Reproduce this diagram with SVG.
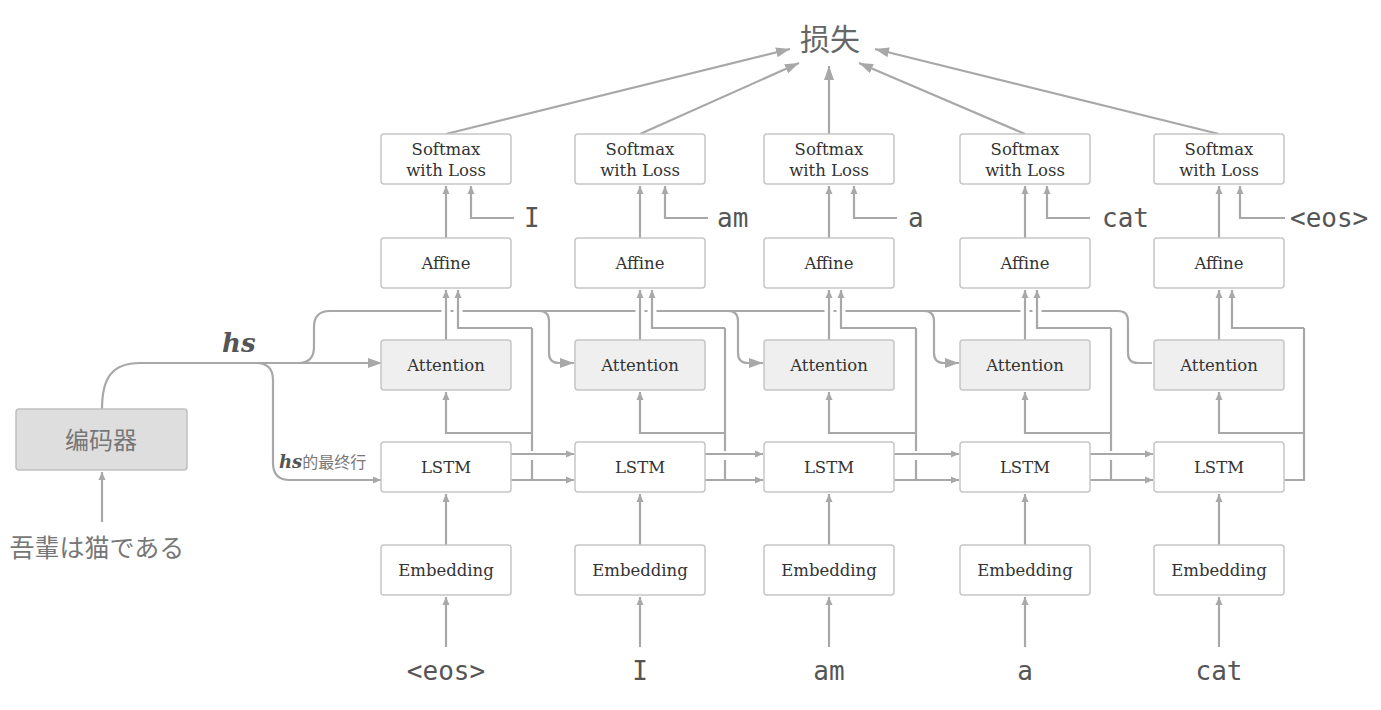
<svg xmlns="http://www.w3.org/2000/svg" width="1381" height="710" viewBox="0 0 1381 710">
<style>
.bx{fill:#fff;stroke:#c6c6c6;stroke-width:1.5}
.at{fill:#efefef;stroke:#c6c6c6;stroke-width:1.5}
.enc{fill:#dedede;stroke:#c0c0c0;stroke-width:1.5}
.t{font-family:"DejaVu Serif","Liberation Serif",serif;font-size:16.5px;fill:#333;text-anchor:middle}
.m{font-family:"DejaVu Sans Mono","Liberation Mono",monospace;font-size:26px;fill:#555}
.mc{font-family:"DejaVu Sans Mono","Liberation Mono",monospace;font-size:26px;fill:#555;text-anchor:middle}
.cjk{font-family:"Noto Sans CJK SC","Noto Sans CJK JP",sans-serif;fill:#777}
.hs{font-family:"DejaVu Serif","Liberation Serif",serif;font-weight:bold;font-style:italic;fill:#555}
.ln{fill:none;stroke:#a8a8a8;stroke-width:2.2}
.gap{fill:none;stroke:#fff;stroke-width:9}
.s{marker-end:url(#a)}
.L{marker-end:url(#b)}
</style>
<defs>
<marker id="a" markerUnits="userSpaceOnUse" markerWidth="9" markerHeight="8" refX="8" refY="4" orient="auto"><path d="M0,0.5 L8,4 L0,7.5 z" fill="#a8a8a8"/></marker>
<marker id="b" markerUnits="userSpaceOnUse" markerWidth="15" markerHeight="11" refX="14" refY="5.5" orient="auto"><path d="M0,0.5 L14,5.5 L0,10.5 z" fill="#a8a8a8"/></marker>
</defs>
<rect width="1381" height="710" fill="#fff"/>

<g id="connectors">
<path class="ln s" d="M102,522 V472"/>
<path class="ln L" d="M102,409 C102,378 112,363 140,363 H382"/>
<path class="ln" d="M298,363 Q314,363 314,347 V327 Q314,311 330,311 H1118 Q1128,311 1128,321 V353 Q1128,363 1138,363 H1152"/>
<path class="ln s" d="M256,363 Q273,363 273,380 V463 Q273,480 290,480 H381"/>
<path class="ln L" d="M539,311 Q549,311 549,321 V353 Q549,363 559,363 H574"/>
<path class="ln L" d="M728,311 Q738,311 738,321 V353 Q738,363 748,363 H763"/>
<path class="ln L" d="M924,311 Q934,311 934,321 V353 Q934,363 944,363 H959"/>
<path class="gap" d="M446,306 V316 M458,306 V316 M640,306 V316 M652,306 V316 M829,306 V316 M841,306 V316 M1025,306 V316 M1037,306 V316"/>

<path class="ln s" d="M446,647 V597"/>
<path class="ln s" d="M446,545 V494"/>
<path class="ln s" d="M446,340 V290"/>
<path class="ln s" d="M446,238 V186"/>
<path class="ln s" d="M514,218 H471 V186"/>
<path class="ln" d="M511,480 H532 V460 M532,451 V328"/>
<path class="ln s" d="M532,328 H458 V290"/>
<path class="ln s" d="M532,433 H446 V392"/>
<path class="ln s" d="M511,454 H574"/>
<path class="ln s" d="M511,480 H574"/>
<path class="ln L" d="M446,134 L790,49"/>

<path class="ln s" d="M640,647 V597"/>
<path class="ln s" d="M640,545 V494"/>
<path class="ln s" d="M640,340 V290"/>
<path class="ln s" d="M640,238 V186"/>
<path class="ln s" d="M708,218 H665 V186"/>
<path class="ln" d="M705,480 H725 V460 M725,451 V328"/>
<path class="ln s" d="M725,328 H652 V290"/>
<path class="ln s" d="M725,433 H640 V392"/>
<path class="ln s" d="M705,454 H763"/>
<path class="ln s" d="M705,480 H763"/>
<path class="ln L" d="M640,134 L799,63"/>

<path class="ln s" d="M829,647 V597"/>
<path class="ln s" d="M829,545 V494"/>
<path class="ln s" d="M829,340 V290"/>
<path class="ln s" d="M829,238 V186"/>
<path class="ln s" d="M897,218 H854 V186"/>
<path class="ln" d="M894,480 H916 V460 M916,451 V328"/>
<path class="ln s" d="M916,328 H841 V290"/>
<path class="ln s" d="M916,433 H829 V392"/>
<path class="ln s" d="M894,454 H959"/>
<path class="ln s" d="M894,480 H959"/>
<path class="ln L" d="M829,134 V66"/>

<path class="ln s" d="M1025,647 V597"/>
<path class="ln s" d="M1025,545 V494"/>
<path class="ln s" d="M1025,340 V290"/>
<path class="ln s" d="M1025,238 V186"/>
<path class="ln s" d="M1090,218 H1047 V186"/>
<path class="ln" d="M1090,480 H1111 V460 M1111,451 V328"/>
<path class="ln s" d="M1111,328 H1037 V290"/>
<path class="ln s" d="M1111,433 H1025 V392"/>
<path class="ln s" d="M1090,454 H1153"/>
<path class="ln s" d="M1090,480 H1153"/>
<path class="ln L" d="M1025,134 L859,63"/>

<path class="ln s" d="M1219,647 V597"/>
<path class="ln s" d="M1219,545 V494"/>
<path class="ln s" d="M1219,340 V290"/>
<path class="ln s" d="M1219,238 V186"/>
<path class="ln s" d="M1285,218 H1240 V186"/>
<path class="ln" d="M1284,480 H1304 V328"/>
<path class="ln s" d="M1304,328 H1232 V290"/>
<path class="ln s" d="M1304,433 H1219 V392"/>
<path class="ln L" d="M1219,134 L875,49"/>
</g>

<g id="encoder">
<rect class="enc" x="16" y="409" width="171" height="61" rx="3"/>
<text class="cjk" x="101" y="449" font-size="24" text-anchor="middle">编码器</text>
</g>
<text class="cjk" x="97" y="557" font-size="25" text-anchor="middle">吾輩は猫である</text>
<text class="cjk" x="830" y="50" font-size="30" text-anchor="middle" style="fill:#666">损失</text>
<text class="hs" x="222" y="352" font-size="26">hs</text>
<text x="279" y="468"><tspan class="hs" font-size="18">hs</tspan><tspan class="cjk" font-size="16">的最终行</tspan></text>

<g id="col1">
<g id="softmax1"><rect class="bx" x="381" y="134" width="130" height="50" rx="3"/><text class="t" x="446" y="155">Softmax</text><text class="t" x="446" y="176">with Loss</text></g>
<g id="affine1"><rect class="bx" x="381" y="238" width="130" height="50" rx="3"/><text class="t" x="446" y="269">Affine</text></g>
<g id="attention1"><rect class="at" x="381" y="340" width="130" height="50" rx="3"/><text class="t" x="446" y="371">Attention</text></g>
<g id="lstm1"><rect class="bx" x="381" y="442" width="130" height="50" rx="3"/><text class="t" x="446" y="473">LSTM</text></g>
<g id="embedding1"><rect class="bx" x="381" y="545" width="130" height="50" rx="3"/><text class="t" x="446" y="576">Embedding</text></g>
<text class="m" x="524" y="227">I</text>
<text class="mc" x="446" y="680">&lt;eos&gt;</text>
</g>

<g id="col2">
<g id="softmax2"><rect class="bx" x="575" y="134" width="130" height="50" rx="3"/><text class="t" x="640" y="155">Softmax</text><text class="t" x="640" y="176">with Loss</text></g>
<g id="affine2"><rect class="bx" x="575" y="238" width="130" height="50" rx="3"/><text class="t" x="640" y="269">Affine</text></g>
<g id="attention2"><rect class="at" x="575" y="340" width="130" height="50" rx="3"/><text class="t" x="640" y="371">Attention</text></g>
<g id="lstm2"><rect class="bx" x="575" y="442" width="130" height="50" rx="3"/><text class="t" x="640" y="473">LSTM</text></g>
<g id="embedding2"><rect class="bx" x="575" y="545" width="130" height="50" rx="3"/><text class="t" x="640" y="576">Embedding</text></g>
<text class="m" x="717" y="227">am</text>
<text class="mc" x="640" y="680">I</text>
</g>

<g id="col3">
<g id="softmax3"><rect class="bx" x="764" y="134" width="130" height="50" rx="3"/><text class="t" x="829" y="155">Softmax</text><text class="t" x="829" y="176">with Loss</text></g>
<g id="affine3"><rect class="bx" x="764" y="238" width="130" height="50" rx="3"/><text class="t" x="829" y="269">Affine</text></g>
<g id="attention3"><rect class="at" x="764" y="340" width="130" height="50" rx="3"/><text class="t" x="829" y="371">Attention</text></g>
<g id="lstm3"><rect class="bx" x="764" y="442" width="130" height="50" rx="3"/><text class="t" x="829" y="473">LSTM</text></g>
<g id="embedding3"><rect class="bx" x="764" y="545" width="130" height="50" rx="3"/><text class="t" x="829" y="576">Embedding</text></g>
<text class="m" x="908" y="227">a</text>
<text class="mc" x="829" y="680">am</text>
</g>

<g id="col4">
<g id="softmax4"><rect class="bx" x="960" y="134" width="130" height="50" rx="3"/><text class="t" x="1025" y="155">Softmax</text><text class="t" x="1025" y="176">with Loss</text></g>
<g id="affine4"><rect class="bx" x="960" y="238" width="130" height="50" rx="3"/><text class="t" x="1025" y="269">Affine</text></g>
<g id="attention4"><rect class="at" x="960" y="340" width="130" height="50" rx="3"/><text class="t" x="1025" y="371">Attention</text></g>
<g id="lstm4"><rect class="bx" x="960" y="442" width="130" height="50" rx="3"/><text class="t" x="1025" y="473">LSTM</text></g>
<g id="embedding4"><rect class="bx" x="960" y="545" width="130" height="50" rx="3"/><text class="t" x="1025" y="576">Embedding</text></g>
<text class="m" x="1102" y="227">cat</text>
<text class="mc" x="1025" y="680">a</text>
</g>

<g id="col5">
<g id="softmax5"><rect class="bx" x="1154" y="134" width="130" height="50" rx="3"/><text class="t" x="1219" y="155">Softmax</text><text class="t" x="1219" y="176">with Loss</text></g>
<g id="affine5"><rect class="bx" x="1154" y="238" width="130" height="50" rx="3"/><text class="t" x="1219" y="269">Affine</text></g>
<g id="attention5"><rect class="at" x="1154" y="340" width="130" height="50" rx="3"/><text class="t" x="1219" y="371">Attention</text></g>
<g id="lstm5"><rect class="bx" x="1154" y="442" width="130" height="50" rx="3"/><text class="t" x="1219" y="473">LSTM</text></g>
<g id="embedding5"><rect class="bx" x="1154" y="545" width="130" height="50" rx="3"/><text class="t" x="1219" y="576">Embedding</text></g>
<text class="m" x="1290" y="227">&lt;eos&gt;</text>
<text class="mc" x="1219" y="680">cat</text>
</g>
</svg>
